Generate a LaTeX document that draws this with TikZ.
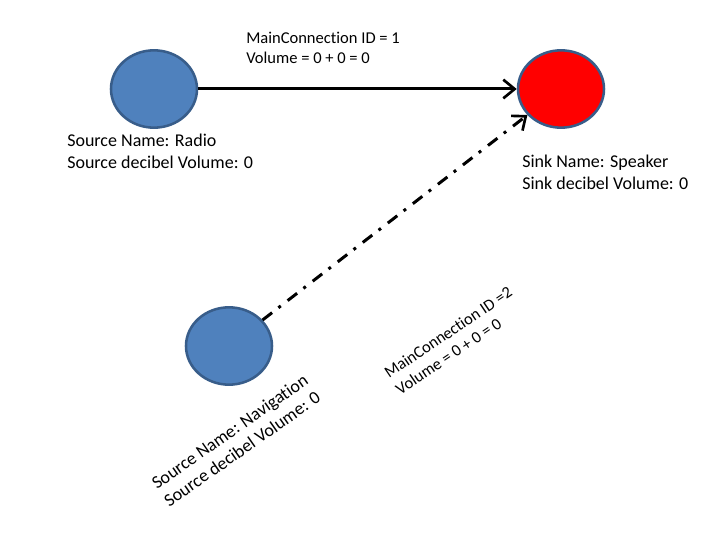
\documentclass[tikz,border=0pt]{standalone}
\usepackage{fontspec}
\setmainfont{Carlito}[Ligatures=NoCommon]
\usetikzlibrary{arrows.meta,shapes.geometric}
\definecolor{srcblue}{HTML}{4F81BD}
\definecolor{edgeblue}{HTML}{385D8A}
\definecolor{sinkred}{HTML}{FF0000}
\newcommand{\lbl}[1]{\begin{tabular}[t]{@{}l@{}}#1\end{tabular}}
\begin{document}
\begin{tikzpicture}[x=0.75pt,y=-0.75pt,
  endpoint/.style={ellipse, draw=edgeblue, line width=1.9pt, minimum width=64.5pt, minimum height=58pt, inner sep=0pt},
  txt/.style={anchor=base west, inner sep=0pt, font=\fontsize{13.5pt}{16pt}\selectfont},
  conntxt/.style={anchor=base west, inner sep=0pt, font=\fontsize{12.4pt}{15pt}\selectfont},
  conn/.style={line width=2.25pt, -{Straight Barb[length=8.5pt,width=14pt,line width=2pt]}},
  dashdot/.style={dash pattern=on 9pt off 6pt on 2.25pt off 6.5pt}
]
\useasboundingbox (0,0) rectangle (717,538);
\fill[white] (0,0) rectangle (717,538);
\node[endpoint, fill=srcblue] (radio) at (154,89) {};
\node[endpoint, fill=sinkred] (speaker) at (561,89) {};
\node[endpoint, fill=srcblue] (nav) at (229,346) {};
\draw[conn] (radio) -- (speaker);
\draw[conn, dashdot] (nav) -- (speaker);
\node[conntxt] (l1) at (246,44) {\lbl{MainConnection ID = 1\\Volume = 0 + 0 = 0}};
\node[txt] (lr) at (67,147) {\lbl{Source Name: Radio\\Source decibel Volume: 0}};
\node[txt] (ls) at (522,168) {\lbl{Sink Name: Speaker\\Sink decibel Volume: 0}};
\node[txt, rotate=35] (ln) at (157,490) {\lbl{Source Name: Navigation\\Source decibel Volume: 0}};
\node[conntxt, rotate=34] (l2) at (389,379) {\lbl{MainConnection ID =2\\Volume = 0 + 0 = 0}};
\end{tikzpicture}
\end{document}
